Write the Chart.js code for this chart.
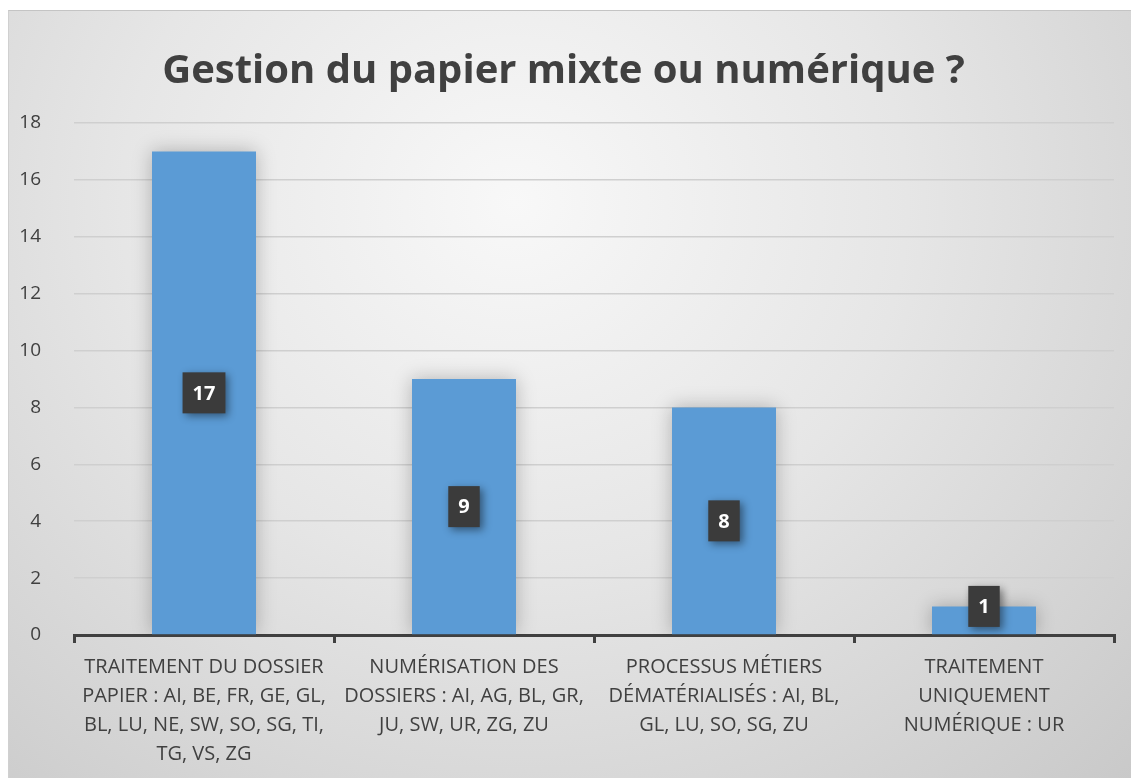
<!DOCTYPE html>
<html>
<head>
<meta charset="utf-8">
<script src="https://cdn.jsdelivr.net/npm/chart.js@4/dist/chart.umd.min.js"></script>
<style>
  body { margin: 0; background: #fff; }
  #frame {
    position: absolute;
    left: 8px;
    top: 10px;
    width: 1123px;
    height: 768px;
    border-top: 1px solid #c4c4c4;
    border-left: 1px solid #d0d0d0;
    background: radial-gradient(ellipse at 45% 25%, #f8f8f8 0%, #e6e6e6 45%, #c9c9c9 100%);
  }
</style>
</head>
<body>
<div id="frame"><canvas id="chart"></canvas></div>
<script>
const categories = [
  ['TRAITEMENT DU DOSSIER', 'PAPIER : AI, BE, FR, GE, GL,', 'BL, LU, NE, SW, SO, SG, TI,', 'TG, VS, ZG'],
  ['NUMÉRISATION DES', 'DOSSIERS : AI, AG, BL, GR,', 'JU, SW, UR, ZG, ZU'],
  ['PROCESSUS MÉTIERS', 'DÉMATÉRIALISÉS : AI, BL,', 'GL, LU, SO, SG, ZU'],
  ['TRAITEMENT', 'UNIQUEMENT', 'NUMÉRIQUE : UR']
];
const values = [17, 9, 8, 1];
const yTicks = [0, 2, 4, 6, 8, 10, 12, 14, 16, 18];

const FONT = "'Open Sans', 'Liberation Sans', sans-serif";
const TEXT = '#404040';
const X_AXIS_HEIGHT = 144;

// soft shadow behind the bars
const barShadow = {
  id: 'barShadow',
  beforeDatasetsDraw(chart) {
    const ctx = chart.ctx;
    ctx.save();
    ctx.shadowColor = 'rgba(0,0,0,0.25)';
    ctx.shadowBlur = 18;
    ctx.shadowOffsetX = 0;
    ctx.shadowOffsetY = 0;
  },
  afterDatasetsDraw(chart) {
    chart.ctx.restore();
  }
};

// dark boxed value labels in the middle of each bar
const boxLabels = {
  id: 'boxLabels',
  afterDatasetsDraw(chart) {
    const ctx = chart.ctx;
    const meta = chart.getDatasetMeta(0);
    ctx.save();
    ctx.font = 'bold 20px ' + FONT;
    ctx.textAlign = 'center';
    ctx.textBaseline = 'middle';
    meta.data.forEach((bar, i) => {
      const txt = String(values[i]);
      const w = ctx.measureText(txt).width + 20;
      const h = 41;
      const cy = (bar.y + bar.base) / 2 - (values[i] < 2 ? 14 : 0);
      ctx.save();
      ctx.shadowColor = 'rgba(0,0,0,0.45)';
      ctx.shadowBlur = 8;
      ctx.shadowOffsetX = 3;
      ctx.shadowOffsetY = 3;
      ctx.fillStyle = '#3b3b3b';
      ctx.fillRect(bar.x - w / 2, cy - h / 2, w, h);
      ctx.restore();
      ctx.fillStyle = '#ffffff';
      ctx.fillText(txt, bar.x, cy + 1);
    });
    ctx.restore();
  }
};

new Chart(document.getElementById('chart'), {
  type: 'bar',
  data: {
    labels: categories,
    datasets: [{
      data: values,
      backgroundColor: '#5b9bd5',
      borderWidth: 0,
      categoryPercentage: 1,
      barPercentage: 0.4
    }]
  },
  options: {
    responsive: true,
    maintainAspectRatio: false,
    animation: false,
    layout: { padding: { top: 18, right: 18, left: 4, bottom: 0 } },
    plugins: {
      legend: { display: false },
      tooltip: { enabled: false },
      title: {
        display: true,
        text: 'Gestion du papier mixte ou numérique ?',
        color: TEXT,
        font: { family: FONT, size: 40, weight: 'bold' },
        padding: { top: 19, bottom: 27 }
      }
    },
    scales: {
      y: {
        min: 0,
        max: 18,
        afterBuildTicks(axis) { axis.ticks = yTicks.map(v => ({ value: v })); },
        afterFit(axis) { axis.width = 61; },
        border: { display: false },
        grid: { color: '#cfcfcf', lineWidth: 1.5, drawTicks: false },
        ticks: {
          color: TEXT,
          padding: 33,
          font: { family: FONT, size: 19 }
        }
      },
      x: {
        afterFit(axis) { axis.height = X_AXIS_HEIGHT; },
        border: { display: true, color: '#404040', width: 3 },
        grid: {
          offset: true,
          drawOnChartArea: false,
          color: '#404040',
          lineWidth: 3,
          tickLength: 8
        },
        ticks: {
          color: TEXT,
          autoSkip: false,
          maxRotation: 0,
          minRotation: 0,
          padding: 10,
          font: { family: FONT, size: 20, lineHeight: 1.45 }
        }
      }
    }
  },
  plugins: [barShadow, boxLabels]
});
</script>
</body>
</html>
